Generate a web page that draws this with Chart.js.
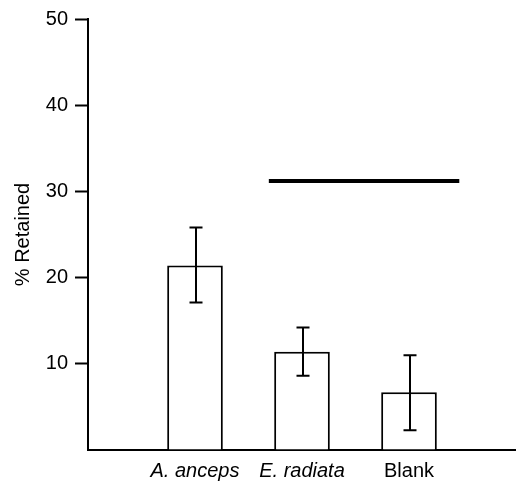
<!DOCTYPE html>
<html>
<head>
<meta charset="utf-8">
<script src="https://cdn.jsdelivr.net/npm/chart.js@4/dist/chart.umd.min.js"></script>
<style>
  html, body { margin: 0; padding: 0; background: #fff; }
  #wrap { width: 516px; height: 481px; }
</style>
</head>
<body>
<div id="wrap"><canvas id="retained"></canvas></div>
<script>
// data
const categories = ["A. anceps", "E. radiata", "Blank"];
const italicNames = [true, true, false];
const positions = [1, 2, 3];
const retained = [21.4, 11.4, 6.7];
const errLow = [17.1, 8.6, 2.3];
const errHigh = [25.8, 14.2, 11.0];
// significance bar across the two lower groups
const sigX = [1.69, 3.47];
const sigY = [31.2, 31.2];

const FONT = "'Liberation Sans', Arial, sans-serif";
const FSIZE = 20;

// error bars with caps, drawn after the bars
const errorBars = {
  id: 'errorBars',
  afterDatasetsDraw(chart) {
    const ctx = chart.ctx;
    const x = chart.scales.x, y = chart.scales.y;
    ctx.save();
    ctx.strokeStyle = '#000';
    ctx.lineWidth = 2;
    for (let i = 0; i < positions.length; i++) {
      const px = x.getPixelForValue(positions[i]) + 1;
      const lo = y.getPixelForValue(errLow[i]);
      const hi = y.getPixelForValue(errHigh[i]);
      ctx.beginPath();
      ctx.moveTo(px, lo); ctx.lineTo(px, hi);
      ctx.moveTo(px - 6.5, lo); ctx.lineTo(px + 6.5, lo);
      ctx.moveTo(px - 6.5, hi); ctx.lineTo(px + 6.5, hi);
      ctx.stroke();
    }
    ctx.restore();
  }
};

new Chart(document.getElementById("retained"), {
  type: 'bar',
  data: {
    datasets: [{
      label: "% Retained",
      data: positions.map((p, i) => ({x: p, y: retained[i]})),
      backgroundColor: '#fff',
      borderColor: '#000',
      borderWidth: 2,
      categoryPercentage: 1,
      barPercentage: 0.52
    }, {
      type: 'line',
      label: "sig",
      data: sigX.map((v, i) => ({x: v, y: sigY[i]})),
      borderColor: '#000',
      borderWidth: 4,
      pointRadius: 0,
      fill: false
    }]
  },
  plugins: [errorBars],
  options: {
    responsive: true,
    maintainAspectRatio: false,
    animation: false,
    layout: { padding: { top: 13, right: 0, left: 0, bottom: 0 } },
    plugins: {
      legend: { display: false },
      tooltip: { enabled: false }
    },
    scales: {
      x: {
        type: 'linear',
        min: 0,
        max: 4,
        offset: false,
        grid: { display: false, drawTicks: false },
        border: { display: true, color: '#000', width: 2 },
        afterFit: s => { s.height = 31; s.paddingRight = 0; s.paddingLeft = 0; },
        ticks: {
          stepSize: 1,
          autoSkip: false,
          maxRotation: 0,
          padding: 9,
          color: '#000',
          font: function(c) {
            const i = positions.indexOf(c.tick ? c.tick.value : -1);
            return { family: FONT, size: FSIZE, style: (i >= 0 && italicNames[i]) ? 'italic' : 'normal' };
          },
          callback: function(v) {
            const i = positions.indexOf(v);
            return i >= 0 ? categories[i] : '';
          }
        }
      },
      y: {
        min: 0,
        max: 50,
        afterFit: s => { s.width = 88; },
        grid: {
          drawOnChartArea: false,
          drawTicks: true,
          tickLength: 13,
          tickWidth: 2,
          tickColor: c => (c.tick && c.tick.value === 0) ? 'rgba(0,0,0,0)' : '#000'
        },
        border: { display: true, color: '#000', width: 2 },
        ticks: {
          stepSize: 10,
          padding: 7,
          color: '#000',
          font: { family: FONT, size: FSIZE },
          callback: v => v === 0 ? '' : v
        },
        title: {
          display: true,
          text: '% Retained',
          color: '#000',
          font: { family: FONT, size: FSIZE },
          padding: { top: 11, bottom: 0 }
        }
      }
    }
  }
});
</script>
</body>
</html>
